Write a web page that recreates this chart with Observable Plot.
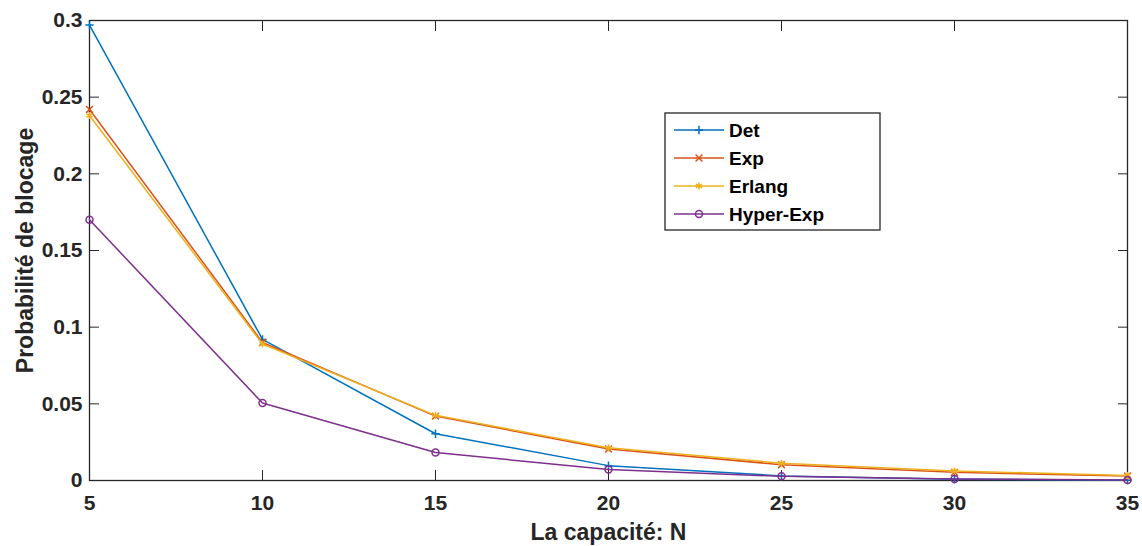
<!DOCTYPE html>
<html>
<head>
<meta charset="utf-8">
<script src="https://cdn.jsdelivr.net/npm/d3@7"></script>
<script src="https://cdn.jsdelivr.net/npm/@observablehq/plot@0.6"></script>
<style>
  body { margin: 0; background: #fff; }
  #chart { position: relative; width: 1142px; height: 546px; }
  #chart svg.legend { position: absolute; left: 664px; top: 112px; }
</style>
</head>
<body>
<div id="chart"></div>
<script>
// Blocking probability versus buffer capacity N, for four service-time laws
const capacity = [5, 10, 15, 20, 25, 30, 35];
const seriesNames = ["Det", "Exp", "Erlang", "Hyper-Exp"];
const detValues    = [0.297, 0.092, 0.0305, 0.0097, 0.0030, 0.0008, 0.0002];
const expValues    = [0.242, 0.090, 0.0420, 0.0205, 0.0103, 0.0053, 0.0029];
const erlangValues = [0.238, 0.089, 0.0425, 0.0213, 0.0113, 0.0062, 0.0033];
const hyperValues  = [0.170, 0.0505, 0.0182, 0.0072, 0.0027, 0.0010, 0.0003];
const xTicks = [5, 10, 15, 20, 25, 30, 35];
const yTicks = [0, 0.05, 0.1, 0.15, 0.2, 0.25, 0.3];

const seriesValues = [detValues, expValues, erlangValues, hyperValues];
const colors = ["#0072BD", "#D95319", "#EDB120", "#7E2F8E"];
const symbols = ["plus", "times", "asterisk", "circle"];
const radii = [2.8, 3.2, 3.3, 3.5];

const series = seriesNames.map((name, k) => ({
  name,
  color: colors[k],
  symbol: symbols[k],
  r: radii[k],
  rows: capacity.map((x, i) => ({x, y: seriesValues[k][i]}))
}));

const ink = "#262626";
const font = '"Liberation Sans", Arial, Helvetica, sans-serif';

const marks = [
  Plot.frame({stroke: ink, strokeWidth: 1.3}),
  // inward ticks on all four sides
  Plot.axisX(xTicks, {anchor: "bottom", tickSize: -10, text: null, label: null, stroke: ink}),
  Plot.axisX(xTicks, {anchor: "top", tickSize: -10, text: null, label: null, stroke: ink}),
  Plot.axisY(yTicks, {anchor: "left", tickSize: -10, text: null, label: null, stroke: ink}),
  Plot.axisY(yTicks, {anchor: "right", tickSize: -10, text: null, label: null, stroke: ink}),
  // tick labels
  Plot.axisX(xTicks, {anchor: "bottom", tickSize: 0, tickPadding: 15, label: null, fill: ink}),
  Plot.axisY(yTicks, {anchor: "left", tickSize: 0, tickPadding: 7, label: null, fill: ink, tickFormat: d3.format("~g")}),
  // axis titles
  Plot.text(["La capacité: N"], {frameAnchor: "bottom", dy: 52, textAnchor: "middle", lineAnchor: "middle", fontSize: 23, fontWeight: "bold", fill: ink}),
  Plot.text(["Probabilité de blocage"], {frameAnchor: "left", dx: -64, rotate: -90, textAnchor: "middle", lineAnchor: "middle", fontSize: 23, fontWeight: "bold", fill: ink})
];

for (const s of series) {
  marks.push(Plot.line(s.rows, {x: "x", y: "y", stroke: s.color, strokeWidth: 1.5}));
  marks.push(Plot.dot(s.rows, {x: "x", y: "y", symbol: s.symbol, stroke: s.color, r: s.r, strokeWidth: 1.5}));
}

const chart = Plot.plot({
  width: 1142,
  height: 546,
  marginLeft: 89,
  marginRight: 15,
  marginTop: 20,
  marginBottom: 66,
  style: {fontFamily: font, fontSize: "21px", fontWeight: "bold", background: "#fff", color: ink},
  x: {domain: [5, 35]},
  y: {domain: [0, 0.3]},
  marks
});

const container = document.getElementById("chart");
container.appendChild(chart);

// Legend box
const lw = 217, lh = 119;
const legend = d3.select(container).append("svg")
  .attr("class", "legend")
  .attr("width", lw)
  .attr("height", lh);
legend.append("rect")
  .attr("x", 1).attr("y", 1)
  .attr("width", lw - 2).attr("height", lh - 2)
  .attr("fill", "#fff").attr("stroke", ink).attr("stroke-width", 1.3);
const symbolMap = {plus: d3.symbolPlus, times: d3.symbolTimes, asterisk: d3.symbolAsterisk, circle: d3.symbolCircle};
series.forEach((s, k) => {
  const cy = 18 + k * 28;
  const g = legend.append("g");
  g.append("line")
    .attr("x1", 10).attr("x2", 60).attr("y1", cy).attr("y2", cy)
    .attr("stroke", s.color).attr("stroke-width", 1.5);
  g.append("path")
    .attr("transform", `translate(35,${cy})`)
    .attr("d", d3.symbol(symbolMap[s.symbol], Math.PI * s.r * s.r)())
    .attr("fill", "none").attr("stroke", s.color).attr("stroke-width", 1.5);
  g.append("text")
    .attr("x", 65).attr("y", cy).attr("dy", "0.35em")
    .attr("font-family", font).attr("font-size", 19).attr("font-weight", "bold")
    .attr("fill", "#000")
    .text(s.name);
});
</script>
</body>
</html>
